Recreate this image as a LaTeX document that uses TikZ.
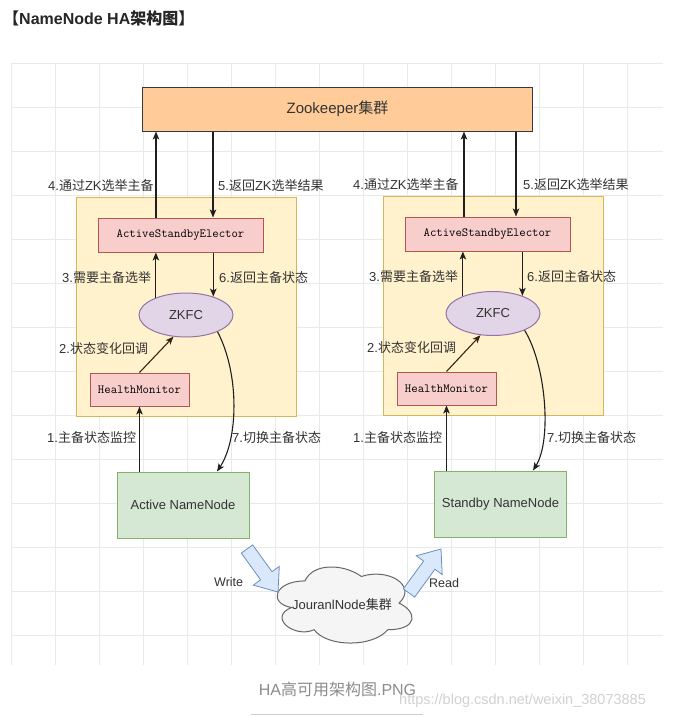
\documentclass[tikz,border=0pt]{standalone}
\usepackage{fontspec}
\setmainfont{Liberation Sans}
\newfontfamily\cjk{Noto Sans CJK SC}
\usetikzlibrary{shapes.geometric,arrows.meta,calc}
\newcommand\zh[1]{{\cjk #1}}
\newcommand\fs[1]{\fontsize{#1}{#1}\selectfont}
\definecolor{gridc}{HTML}{E9E9E9}
\definecolor{zkfill}{HTML}{FFCC99}
\definecolor{zkdraw}{HTML}{36393D}
\definecolor{yfill}{HTML}{FFF2CC}
\definecolor{ydraw}{HTML}{D6B656}
\definecolor{rfill}{HTML}{F8CECC}
\definecolor{rdraw}{HTML}{B85450}
\definecolor{pfill}{HTML}{E1D5E7}
\definecolor{pdraw}{HTML}{9673A6}
\definecolor{gfill}{HTML}{D5E8D4}
\definecolor{gdraw}{HTML}{82B366}
\definecolor{cfill}{HTML}{F5F5F5}
\definecolor{cdraw}{HTML}{666666}
\definecolor{bfill}{HTML}{DAE8FC}
\definecolor{bdraw}{HTML}{6C8EBF}
\definecolor{txt}{HTML}{333333}
\begin{document}
\begin{tikzpicture}[x=1pt,y=-1pt,
  gridline/.style={draw=gridc,line width=0.8pt},
  zkbox/.style={draw=zkdraw,fill=zkfill,line width=1pt,minimum width=390pt,minimum height=44pt,inner sep=0pt,text=txt},
  ybox/.style={draw=ydraw,fill=yfill,line width=1pt,minimum width=220pt,minimum height=219pt,inner sep=0pt},
  rbox/.style={draw=rdraw,fill=rfill,line width=1pt,inner sep=0pt,font=\ttfamily\fs{12.4},text=black},
  zkfc/.style={ellipse,draw=pdraw,fill=pfill,line width=1pt,minimum width=94pt,minimum height=44pt,inner sep=0pt,font=\fs{13},text=txt},
  gbox/.style={draw=gdraw,fill=gfill,line width=1pt,minimum width=132pt,minimum height=66pt,inner sep=0pt,font=\fs{13},text=txt},
  lbl/.style={anchor=west,inner sep=0pt,font=\fs{13},text=txt},
  arr/.style={draw=black!88,line width=1.1pt,-{Stealth[length=8pt,width=6.5pt,inset=2pt]}},
  arrg/.style={draw=black!70!brown,line width=1.1pt,-{Stealth[length=8pt,width=6.5pt,inset=2pt]}},
  blk/.style={draw=bdraw,fill=bfill,line width=0.8pt,line join=miter},
]
\useasboundingbox (0,0) rectangle (680,717);
\fill[white] (0,0) rectangle (680,717);
% grid
\foreach \x in {11,55,...,627} \draw[gridline] (\x,63) -- (\x,665);
\foreach \y in {63,107,...,635} \draw[gridline] (11,\y) -- (663,\y);

% title
\node[anchor=west,inner sep=0pt,text=black!85] (title) at (3,18) {\fs{16}\bfseries\zh{【}NameNode HA\zh{架构图】}};

% zookeeper
\node[zkbox] (zk) at (337.5,109) {\fs{15}Zookeeper\zh{集群}};

% containers
\node[ybox] (c1) at (186,306.5) {};
\node[ybox] (c2) at (493,305.5) {};

% inner boxes
\node[rbox,minimum width=165pt,minimum height=34pt] (ase1) at (180.5,235) {ActiveStandbyElector};
\node[rbox,minimum width=165pt,minimum height=34pt] (ase2) at (487.5,234) {ActiveStandbyElector};
\node[zkfc] (zkfc1) at (186,315) {ZKFC};
\node[zkfc] (zkfc2) at (493,313.5) {ZKFC};
\node[rbox,minimum width=99pt,minimum height=33pt] (hm1) at (139.5,389.5) {HealthMonitor};
\node[rbox,minimum width=99pt,minimum height=33pt] (hm2) at (446.5,388.5) {HealthMonitor};

% namenodes
\node[gbox] (nnA) at (183,505) {Active NameNode};
\node[gbox] (nnS) at (500.5,504) {Standby NameNode};

% cloud
\begin{scope}[shift={(267.4,558.7)},x=150.5pt,y=-88.8pt]
\draw[fill=cfill,draw=cdraw,line width=1pt]
 (0.25,0.25) .. controls (0.05,0.25) and (0,0.5) .. (0.16,0.55)
 .. controls (0,0.66) and (0.18,0.9) .. (0.31,0.8)
 .. controls (0.4,1) and (0.7,1) .. (0.8,0.8)
 .. controls (1,0.8) and (1,0.6) .. (0.875,0.5)
 .. controls (1,0.3) and (0.8,0.1) .. (0.625,0.2)
 .. controls (0.5,0.05) and (0.3,0.05) .. (0.25,0.25) -- cycle;
\end{scope}
\node[inner sep=0pt,font=\fs{13},text=txt] (jn) at (342,605) {JouranlNode\zh{集群}};

% block arrows
\coordinate (wa) at (247,549); \coordinate (wb) at (278,592);
\coordinate (wc) at ($(wb)!20pt!(wa)$);
\draw[blk] ($(wa)!7pt!90:(wb)$) -- ($(wc)!7pt!-90:(wa)$) -- ($(wc)!16pt!-90:(wa)$) -- (wb)
  -- ($(wc)!16pt!90:(wa)$) -- ($(wc)!7pt!90:(wa)$) -- ($(wa)!7pt!-90:(wb)$) -- cycle;
\coordinate (ra) at (409,593); \coordinate (rb) at (441,549);
\coordinate (rc) at ($(rb)!20pt!(ra)$);
\draw[blk] ($(ra)!7pt!90:(rb)$) -- ($(rc)!7pt!-90:(ra)$) -- ($(rc)!16pt!-90:(ra)$) -- (rb)
  -- ($(rc)!16pt!90:(ra)$) -- ($(rc)!7pt!90:(ra)$) -- ($(ra)!7pt!-90:(rb)$) -- cycle;
\node[lbl,font=\fs{12.5}] (wlbl) at (214,582) {Write};
\node[lbl,font=\fs{12.5}] (rlbl) at (429,583) {Read};

% left connectors
\draw[arr] ([xshift=-24.5pt]ase1.north) -- ([xshift=-24.5pt]ase1.north |- zk.south);
\draw[arr] ([xshift=32.5pt]ase1.north |- zk.south) -- ([xshift=32.5pt]ase1.north);
\draw[arr] (zkfc1.150) -- (zkfc1.150 |- ase1.south);
\draw[arr] (ase1.south -| zkfc1.34) -- (zkfc1.34);
\draw[arrg] (hm1.north) -- (zkfc1.-120);
\draw[arr] (hm1.south |- nnA.north) -- (hm1.south);
\draw[arr] (zkfc1.-28) .. controls (240,375) and (238,440) .. ([xshift=34pt]nnA.north);

% right connectors
\draw[arr] ([xshift=-23.5pt]ase2.north) -- ([xshift=-23.5pt]ase2.north |- zk.south);
\draw[arr] ([xshift=28.5pt]ase2.north |- zk.south) -- ([xshift=28.5pt]ase2.north);
\draw[arr] (zkfc2.150) -- (zkfc2.150 |- ase2.south);
\draw[arr] (ase2.south -| zkfc2.31) -- (zkfc2.31);
\draw[arrg] (hm2.north) -- (zkfc2.-120);
\draw[arr] (hm2.south |- nnS.north) -- (hm2.south);
\draw[arr] (zkfc2.-28) .. controls (546,365) and (552,440) .. ([xshift=32.5pt]nnS.north);

% labels left
\node[lbl] (l4a) at (48,186) {4.\zh{通过}ZK\zh{选举主备}};
\node[lbl] (l5a) at (218,186) {5.\zh{返回}ZK\zh{选举结果}};
\node[lbl] (l3a) at (62,278) {3.\zh{需要主备选举}};
\node[lbl] (l6a) at (219,278) {6.\zh{返回主备状态}};
\node[lbl] (l2a) at (59,349) {2.\zh{状态变化回调}};
\node[lbl] (l1a) at (47,438) {1.\zh{主备状态监控}};
\node[lbl] (l7a) at (232,438) {7.\zh{切换主备状态}};
% labels right
\node[lbl] (l4b) at (353,185) {4.\zh{通过}ZK\zh{选举主备}};
\node[lbl] (l5b) at (523,185) {5.\zh{返回}ZK\zh{选举结果}};
\node[lbl] (l3b) at (369,277) {3.\zh{需要主备选举}};
\node[lbl] (l6b) at (527,277) {6.\zh{返回主备状态}};
\node[lbl] (l2b) at (367,348) {2.\zh{状态变化回调}};
\node[lbl] (l1b) at (353,438) {1.\zh{主备状态监控}};
\node[lbl] (l7b) at (547,438) {7.\zh{切换主备状态}};

% caption
\node[inner sep=0pt,text=black!45] (cap) at (337.5,689) {\fs{16}HA\zh{高可用架构图}.PNG};
\node[anchor=west,inner sep=0pt,text=black!18] (wm) at (399,701) {\fs{14.5}https://blog.csdn.net/weixin\_38073885};
\draw[black!20,line width=1pt] (251,714) -- (423,714);
\end{tikzpicture}
\end{document}
